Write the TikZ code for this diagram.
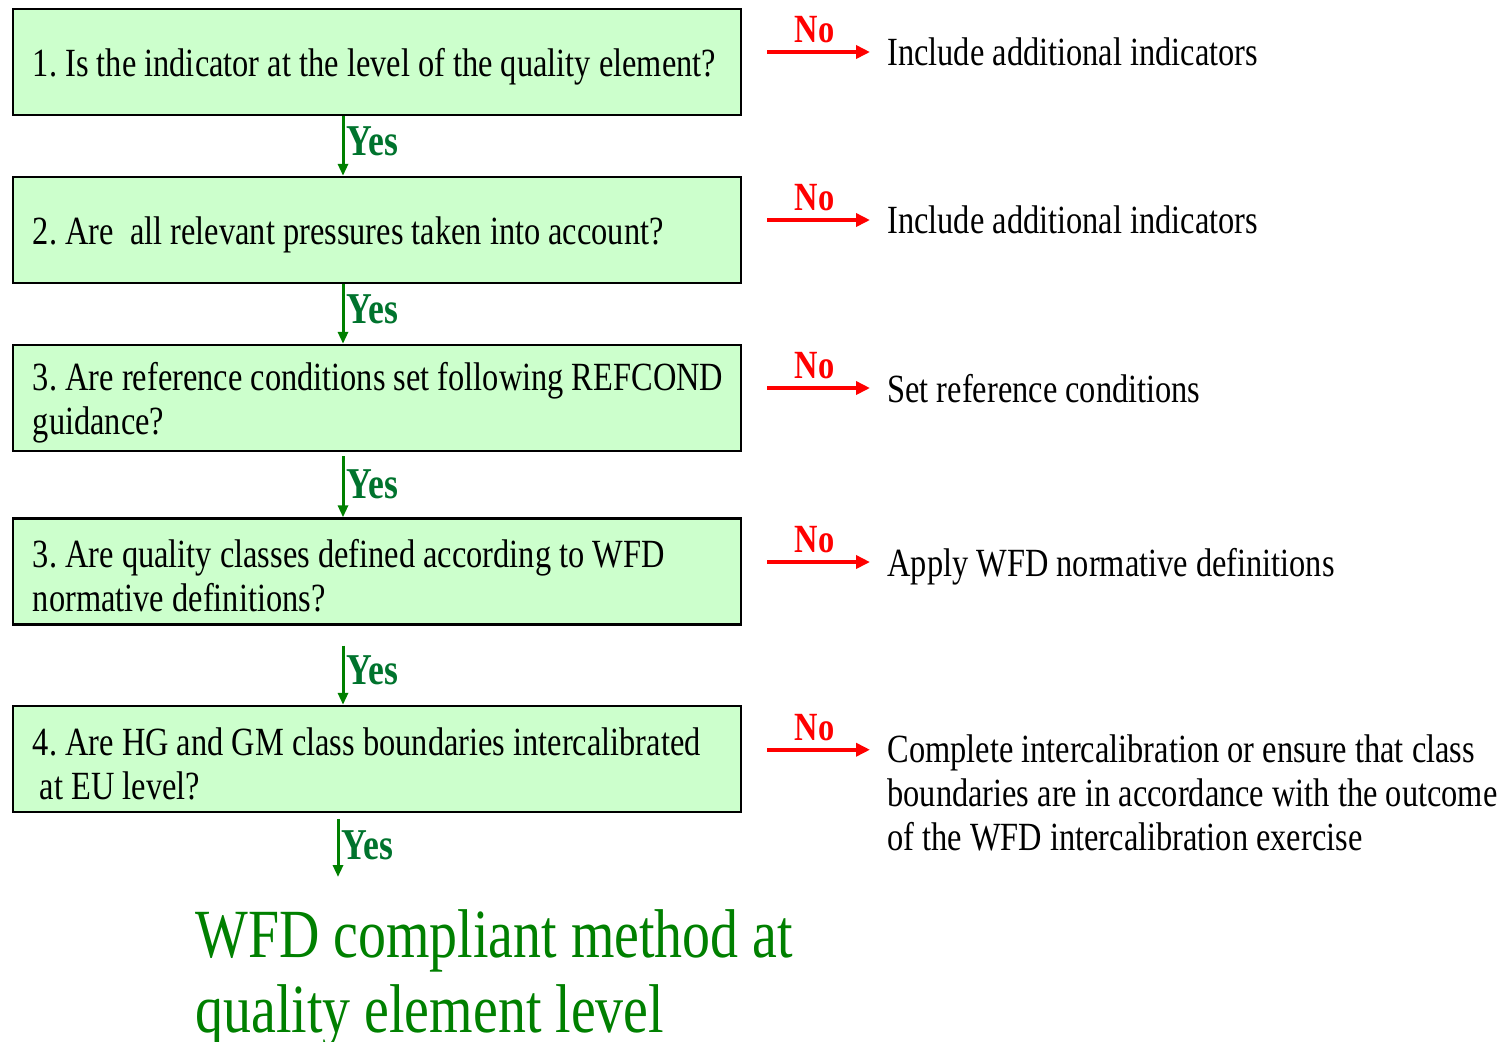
\documentclass[tikz,border=0pt]{standalone}
\usepackage{fontspec}
\setmainfont[FakeStretch=0.81]{Liberation Serif}
\usepackage{tikz}
\usetikzlibrary{arrows.meta,positioning}
\definecolor{qgreen}{RGB}{204,255,204}
\definecolor{yesgreen}{RGB}{0,128,0}
\definecolor{yestext}{RGB}{0,115,45}
\definecolor{nored}{RGB}{255,0,0}

\begin{document}
\frenchspacing
\begin{tikzpicture}[
  x=0.5pt,y=-0.5pt,
  every node/.style={font=\fontsize{20pt}{22pt}\selectfont},
  question/.style={draw=black,line width=1.2pt,fill=qgreen,minimum height=53pt,text width=354pt,inner xsep=5pt,align=flush left,
    execute at begin node={\leftskip=5pt\relax\rule{0pt}{18.7pt}}},
  answer/.style={anchor=west,inner sep=0pt,text depth=0pt,align=left},
  yesarrow/.style={->,>={Triangle[length=6pt,width=5pt]},line width=1.5pt,yesgreen},
  noarrow/.style={->,>={Triangle[length=7pt,width=6.5pt]},line width=2pt,nored,shorten <=12.5pt,shorten >=8.5pt},
  yeslabel/.style={right,inner sep=1pt,yshift=2.5pt,text=yestext,font=\fontsize{22pt}{24pt}\selectfont\bfseries},
  nolabel/.style={above=3.5pt,inner sep=0pt,text=nored,font=\fontsize{20pt}{22pt}\selectfont\bfseries}
]
\useasboundingbox (0,0) rectangle (1508,1041);

% questions
\node[question] (q1) at (377,62) {1. Is the indicator at the level of the quality element?};
\node[question] (q2) at (377,230) {2. Are~ all relevant pressures taken into account?};
\node[question] (q3) at (377,398) {3. Are reference conditions set following REFCOND\\guidance?};
\node[question] (q4) at (377,571.5) {3. Are quality classes defined according to WFD\\normative definitions?};
\node[question] (q5) at (377,759) {4. Are HG and GM class boundaries intercalibrated\\\hspace*{3.5pt}at EU level?};

% answers for no
\node[answer] (a1) at (887,52) {Include additional indicators};
\node[answer] (a2) at (887,220) {Include additional indicators};
\node[answer] (a3) at (887,388) {Set reference conditions};
\node[answer] (a4) at (887,562) {Apply WFD normative definitions};
\node[answer] (a5) at (887,793) {Complete intercalibration or ensure that class\\boundaries are in accordance with the outcome\\of the WFD intercalibration exercise};

\node[anchor=north west,inner sep=0pt,align=left,text=yesgreen,font=\fontsize{34.5pt}{37.5pt}\selectfont] (wfd) at (195,909) {WFD compliant method at\\quality element level};
\coordinate (fin) at (338,877);

\draw[yesarrow] ([xshift=-17pt]q1.south) -- ([xshift=-17pt]q2.north) node[midway,yeslabel] {Yes};
\draw[yesarrow] ([xshift=-17pt]q2.south) -- ([xshift=-17pt]q3.north) node[midway,yeslabel] {Yes};
\draw[yesarrow,shorten <=2pt] ([xshift=-17pt]q3.south) -- ([xshift=-17pt]q4.north) node[pos=0.57,yeslabel] {Yes};
\draw[yesarrow,shorten <=10pt] ([xshift=-17pt]q4.south) -- ([xshift=-17pt]q5.north) node[pos=0.63,yeslabel] {Yes};
\draw[yesarrow,shorten <=3pt] ([xshift=-19.5pt]q5.south) -- (fin) node[pos=0.58,yeslabel] {Yes};

\draw[noarrow] (q1.east |- a1.west) -- (a1.west) node[midway,nolabel] {No};
\draw[noarrow] (q2.east |- a2.west) -- (a2.west) node[midway,nolabel] {No};
\draw[noarrow] (q3.east |- a3.west) -- (a3.west) node[midway,nolabel] {No};
\draw[noarrow] (q4.east |- a4.west) -- (a4.west) node[midway,nolabel] {No};
\draw[noarrow] ([yshift=-7.5pt]q5.east |- a5.north west) -- ([yshift=-7.5pt]a5.north west) node[midway,nolabel] {No};
\end{tikzpicture}
\end{document}
